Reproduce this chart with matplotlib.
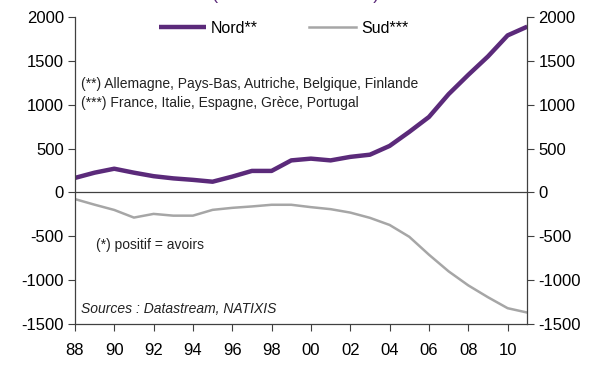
import numpy as np
import matplotlib.pyplot as plt

plt.rcParams['font.family'] = ['Liberation Sans', 'DejaVu Sans']
plt.rcParams['axes.unicode_minus'] = False

years = np.arange(1988, 2012)
nord = [165, 225, 270, 225, 185, 160, 143, 122, 180, 245, 245, 365, 385, 365, 405, 430, 530, 690, 860, 1120, 1340, 1550, 1790, 1890]
sud = [-76, -140, -200, -287, -245, -265, -265, -199, -176, -160, -141, -141, -168, -191, -230, -290, -371, -506, -710, -900, -1060, -1195, -1320, -1370]
xticks = np.arange(1988, 2012, 2)
xlabels = ['%02d' % (y % 100) for y in xticks]
yticks = np.arange(-1500, 2001, 500)

fig = plt.figure(figsize=(6.04, 3.69), dpi=100)
ax = fig.add_axes([0.124, 0.122, 0.749, 0.832])

ax.plot(years, nord, color='#5b2a7a', lw=3.2, label='Nord**', solid_capstyle='butt')
ax.plot(years, sud, color='#a6a6a6', lw=1.8, label='Sud***')
ax.axhline(0, color='#404040', lw=0.9)

ax.set_xlim(1988, 2011)
ax.set_ylim(-1500, 2000)
ax.set_xticks(xticks)
ax.set_xticklabels(xlabels)
ax.set_yticks(yticks)
ax.tick_params(axis='both', labelsize=12, color='#404040', length=5, direction='out')
ax.tick_params(axis='x', pad=9)
ax.tick_params(axis='y', pad=3)
ax.tick_params(axis='y', right=True, labelright=True)
ax.spines['top'].set_visible(False)
for s in ['left', 'right', 'bottom']:
    ax.spines[s].set_color('#404040')
    ax.spines[s].set_linewidth(0.9)

ax.legend(loc='upper center', bbox_to_anchor=(0.462, 1.035), ncol=2, frameon=False,
          fontsize=11.5, handlelength=2.9, columnspacing=3.2, handletextpad=0.35)

ax.text(0.014, 0.782, "(**) Allemagne, Pays-Bas, Autriche, Belgique, Finlande",
        transform=ax.transAxes, fontsize=10, va='center', color='#222222')
ax.text(0.014, 0.72, "(***) France, Italie, Espagne, Grèce, Portugal",
        transform=ax.transAxes, fontsize=10, va='center', color='#222222')
ax.text(0.047, 0.257, "(*) positif = avoirs",
        transform=ax.transAxes, fontsize=10, va='center', color='#222222')
ax.text(0.014, 0.05, "Sources : Datastream, NATIXIS",
        transform=ax.transAxes, fontsize=10, va='center', style='italic', color='#222222')

fig.text(0.49, 0.992, "(en milliards d'euros)", color='#5b2a7a', fontsize=13,
         ha='center', va='bottom')

fig.savefig('out.png', dpi=100)
